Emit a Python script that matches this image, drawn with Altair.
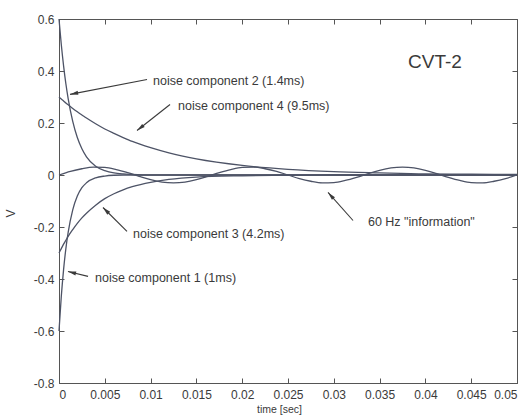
import math
import altair as alt
import pandas as pd

# ---- exponential noise components (time in seconds, amplitude in volts) ----
t_exp = [0, 0.00025, 0.0005, 0.00075, 0.001, 0.0015, 0.002, 0.0025, 0.003,
         0.004, 0.005, 0.006, 0.007, 0.008, 0.01, 0.012, 0.015, 0.02, 0.025,
         0.03, 0.035, 0.04, 0.045, 0.05]
comp1 = [-0.6, -0.467, -0.364, -0.283, -0.221, -0.134, -0.081, -0.049, -0.030,
         -0.011, -0.004, -0.001, 0, 0, 0, 0, 0, 0, 0, 0, 0, 0, 0, 0]
comp2 = [0.6, 0.502, 0.420, 0.351, 0.294, 0.206, 0.144, 0.101, 0.070,
         0.034, 0.017, 0.008, 0.004, 0.002, 0, 0, 0, 0, 0, 0, 0, 0, 0, 0]
comp3 = [-0.3, -0.283, -0.266, -0.251, -0.236, -0.210, -0.186, -0.165, -0.147,
         -0.116, -0.091, -0.072, -0.057, -0.045, -0.028, -0.017, -0.008, -0.003,
         -0.001, 0, 0, 0, 0, 0]
comp4 = [0.3, 0.292, 0.285, 0.277, 0.270, 0.256, 0.243, 0.231, 0.219,
         0.197, 0.177, 0.160, 0.144, 0.129, 0.105, 0.085, 0.062, 0.037,
         0.022, 0.013, 0.008, 0.004, 0.003, 0.002]

# ---- 60 Hz "information" signal ----
t_sine = [0, 0.00125, 0.0025, 0.00375, 0.005, 0.00625, 0.0075, 0.00875, 0.01,
          0.01125, 0.0125, 0.01375, 0.015, 0.01625, 0.0175, 0.01875, 0.02,
          0.02125, 0.0225, 0.02375, 0.025, 0.02625, 0.0275, 0.02875, 0.03,
          0.03125, 0.0325, 0.03375, 0.035, 0.03625, 0.0375, 0.03875, 0.04,
          0.04125, 0.0425, 0.04375, 0.045, 0.04625, 0.0475, 0.04875, 0.05]
info_60hz = [0, 0.014, 0.024, 0.030, 0.029, 0.021, 0.009, -0.005, -0.018,
             -0.027, -0.030, -0.027, -0.018, -0.005, 0.009, 0.021, 0.029,
             0.030, 0.024, 0.014, 0, -0.014, -0.024, -0.030, -0.029, -0.021,
             -0.009, 0.005, 0.018, 0.027, 0.030, 0.027, 0.018, 0.005, -0.009,
             -0.021, -0.029, -0.030, -0.024, -0.014, 0]

# ---- axis ticks ----
x_ticks = [0, 0.005, 0.01, 0.015, 0.02, 0.025, 0.03, 0.035, 0.04, 0.045, 0.05]
y_ticks = [-0.8, -0.6, -0.4, -0.2, 0, 0.2, 0.4, 0.6]

# ---- callouts: label text, text anchor, arrow tail and arrow tip ----
labels = ["noise component 2 (1.4ms)", "noise component 4 (9.5ms)",
          "noise component 3 (4.2ms)", "noise component 1 (1ms)",
          '60 Hz "information"']
text_x = [0.01026, 0.01299, 0.00808, 0.00393, 0.03373]
text_y = [0.363, 0.267, -0.225, -0.398, -0.179]
tail_x = [0.00961, 0.01212, 0.00742, 0.00317, 0.0321]
tail_y = [0.367, 0.271, -0.217, -0.390, -0.175]
tip_x = [0.0012, 0.00852, 0.0048, 0.00098, 0.02937]
tip_y = [0.310, 0.171, -0.125, -0.371, -0.067]

W, H = 458, 364
X_DOM = [0, 0.05]
Y_DOM = [-0.8, 0.6]
LINE = "#4d5366"
INK = "#3a3a3a"
FONT = "Liberation Sans"

rows = []
for name, vals in [("c1", comp1), ("c2", comp2), ("c3", comp3), ("c4", comp4)]:
    rows += [{"series": name, "t": t, "v": v} for t, v in zip(t_exp, vals)]
rows += [{"series": "info", "t": t, "v": v} for t, v in zip(t_sine, info_60hz)]
curves = pd.DataFrame(rows)

# arrowhead rotation in screen space (clockwise from "up")
angles = []
for x0, y0, x1, y1 in zip(tail_x, tail_y, tip_x, tip_y):
    dx = (x1 - x0) / (X_DOM[1] - X_DOM[0]) * W
    dy = -(y1 - y0) / (Y_DOM[1] - Y_DOM[0]) * H
    angles.append(math.degrees(math.atan2(dx, -dy)) % 360)

notes = pd.DataFrame({
    "label": labels, "tx": text_x, "ty": text_y,
    "x0": tail_x, "y0": tail_y, "x1": tip_x, "y1": tip_y, "ang": angles,
})

xs = alt.Scale(domain=X_DOM, nice=False, zero=False)
ys = alt.Scale(domain=Y_DOM, nice=False, zero=False)

# main curves with labelled bottom / left axes
lines = alt.Chart(curves).mark_line(
    color=LINE, strokeWidth=1.3, interpolate="monotone"
).encode(
    x=alt.X("t:Q", scale=xs, axis=alt.Axis(
        orient="bottom", values=x_ticks, labelExpr="toString(datum.value)",
        ticks=False, tickSize=0, labelPadding=6, grid=False,
        title="time [sec]", titleX=220, titleY=21, titleFontSize=10.5,
        titleFontWeight="normal", titleColor=INK, titleFont=FONT)),
    y=alt.Y("v:Q", scale=ys, axis=alt.Axis(
        orient="left", values=y_ticks, labelExpr="toString(datum.value)",
        ticks=False, tickSize=0, labelPadding=5, grid=False,
        title="V", titleX=-49, titleY=194, titleFontSize=12,
        titleBaseline="middle", titleAlign="center",
        titleFontWeight="normal", titleColor=INK, titleFont=FONT)),
    detail="series:N",
)

# inward-pointing ticks along the bottom and left edges
ticks_a = alt.Chart(curves).mark_line(strokeOpacity=0).encode(
    x=alt.X("t:Q", scale=xs, axis=alt.Axis(
        orient="top", offset=-H, values=x_ticks, labels=False, domain=False,
        grid=False, tickSize=5, title=None)),
    y=alt.Y("v:Q", scale=ys, axis=alt.Axis(
        orient="right", offset=-W, values=y_ticks, labels=False, domain=False,
        grid=False, tickSize=5, title=None)),
    detail="series:N",
)

# inward-pointing ticks along the top and right edges
ticks_b = alt.Chart(curves).mark_line(strokeOpacity=0).encode(
    x=alt.X("t:Q", scale=xs, axis=alt.Axis(
        orient="bottom", offset=-H, values=x_ticks, labels=False, domain=False,
        grid=False, tickSize=5, title=None)),
    y=alt.Y("v:Q", scale=ys, axis=alt.Axis(
        orient="left", offset=-W, values=y_ticks, labels=False, domain=False,
        grid=False, tickSize=5, title=None)),
    detail="series:N",
)

arrow_lines = alt.Chart(notes).mark_rule(color=INK, strokeWidth=1.1).encode(
    x=alt.X("x0:Q", scale=xs, axis=None),
    y=alt.Y("y0:Q", scale=ys, axis=None),
    x2="x1:Q", y2="y1:Q",
)

arrow_heads = alt.Chart(notes).mark_point(
    shape="M0,0L-0.55,2.2L0.55,2.2Z", filled=True, color=INK, opacity=1,
    size=55,
).encode(
    x=alt.X("x1:Q", scale=xs, axis=None),
    y=alt.Y("y1:Q", scale=ys, axis=None),
    angle=alt.Angle("ang:Q", scale=None),
)

note_text = alt.Chart(notes).mark_text(
    align="left", baseline="middle", font=FONT, fontSize=12.5, color=INK,
).encode(
    x=alt.X("tx:Q", scale=xs, axis=None),
    y=alt.Y("ty:Q", scale=ys, axis=None),
    text="label:N",
)

tag = alt.Chart(pd.DataFrame({"x": [0.0381], "y": [0.433], "s": ["CVT-2"]})).mark_text(
    align="left", baseline="middle", font=FONT, fontSize=19, color=INK,
).encode(
    x=alt.X("x:Q", scale=xs, axis=None),
    y=alt.Y("y:Q", scale=ys, axis=None),
    text="s:N",
)

chart = alt.layer(
    lines, ticks_a, ticks_b, arrow_lines, arrow_heads, note_text, tag
).resolve_axis(
    x="independent", y="independent"
).properties(
    width=W, height=H,
    autosize=alt.AutoSizeParams(type="none"),
    padding={"left": 59, "top": 19, "right": 15, "bottom": 33},
    background="white",
).configure_axis(
    labelFont=FONT, labelFontSize=12, labelColor=INK,
    domainColor="#555555", tickColor="#555555", domainWidth=1, tickWidth=1,
).configure_view(
    stroke="#555555", strokeWidth=1,
)

chart.save("out.html", embed_options={"renderer": "svg", "actions": False})
